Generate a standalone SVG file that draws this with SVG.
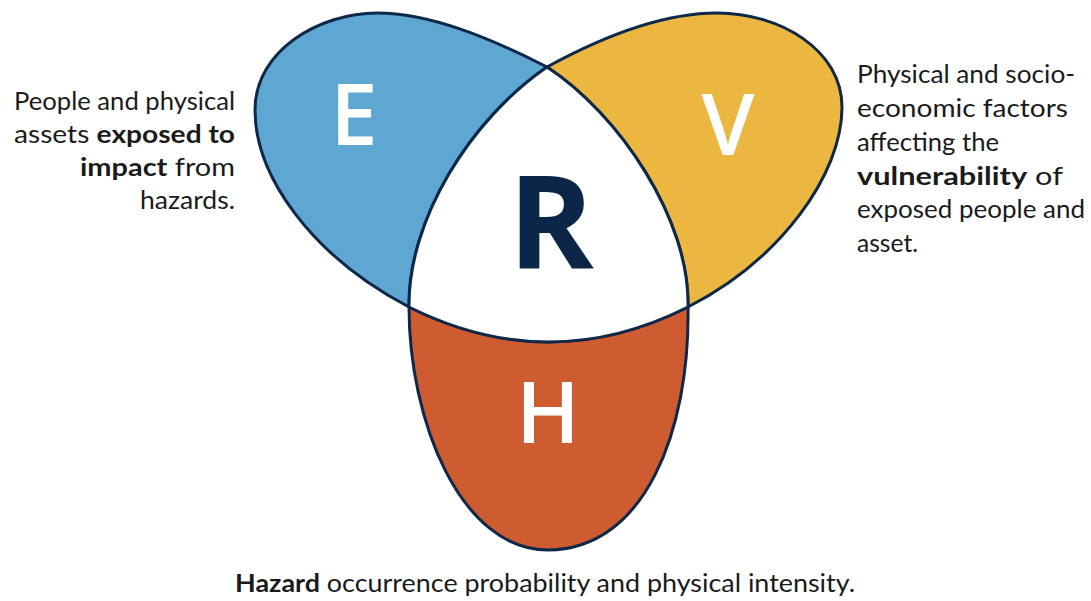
<svg xmlns="http://www.w3.org/2000/svg" width="1091" height="601" viewBox="0 0 1091 601">
<style>
.petal{stroke:#0e2849;stroke-width:3;stroke-linejoin:round}
.letter{font-family:"Open Sans","Liberation Sans",sans-serif;font-weight:600;fill:#ffffff;text-anchor:middle}
.desc{font-family:Lato,"Liberation Sans",sans-serif;font-size:25px;fill:#1a1a1a}
.b{font-weight:700}
</style>
<rect width="1091" height="601" fill="#ffffff"/>
<g id="node-E">
<path class="petal" fill="#5ea7d3" d="M547,67 C490,38 430,13 377,13 C320,13 255,50 255,110 C255,175 310,255 409,307 C408,220 470,120 547,67 Z"/>
<text class="letter" x="354" y="145" font-size="85">E</text>
</g>
<g id="node-V">
<path class="petal" fill="#ecb740" d="M547,67 C600,38 660,13 717,13 C780,13 842,50 842,107 C842,175 780,260 688,307 C690,220 620,115 547,67 Z"/>
<text class="letter" x="728" y="155" font-size="85">V</text>
</g>
<g id="node-H">
<path class="petal" fill="#cf5b31" d="M409,307 C409,420 460,550 548,550 C645,550 690,430 688,307 Q549,377 409,307 Z"/>
<text class="letter" x="548" y="443" font-size="85">H</text>
</g>
<g id="node-R">
<path class="petal" fill="#ffffff" d="M547,67 C620,115 690,220 688,307 Q549,377 409,307 C408,220 470,120 547,67 Z"/>
<text x="551" y="268" font-family="Open Sans,'Liberation Sans',sans-serif" font-weight="700" font-size="130" fill="#0b2647" text-anchor="middle">R</text>
</g>
<g id="connectors"></g>
<g id="label-E" class="desc">
<text x="14" y="110" textLength="221" lengthAdjust="spacingAndGlyphs">People and physical</text>
<text x="14" y="143" textLength="221" lengthAdjust="spacingAndGlyphs">assets <tspan class="b">exposed to</tspan></text>
<text x="80" y="176" textLength="155" lengthAdjust="spacingAndGlyphs"><tspan class="b">impact</tspan> from</text>
<text x="140" y="209" textLength="95" lengthAdjust="spacingAndGlyphs">hazards.</text>
</g>
<g id="label-V" class="desc">
<text x="857" y="83" textLength="218" lengthAdjust="spacingAndGlyphs">Physical and socio-</text>
<text x="857" y="117" textLength="211" lengthAdjust="spacingAndGlyphs">economic factors</text>
<text x="857" y="151" textLength="142" lengthAdjust="spacingAndGlyphs">affecting the</text>
<text x="857" y="185" textLength="206" lengthAdjust="spacingAndGlyphs"><tspan class="b">vulnerability</tspan> of</text>
<text x="857" y="218" textLength="228" lengthAdjust="spacingAndGlyphs">exposed people and</text>
<text x="857" y="252" textLength="61" lengthAdjust="spacingAndGlyphs">asset.</text>
</g>
<g id="label-H" class="desc">
<text x="235" y="592" textLength="620" lengthAdjust="spacingAndGlyphs"><tspan class="b">Hazard</tspan> occurrence probability and physical intensity.</text>
</g>
</svg>
